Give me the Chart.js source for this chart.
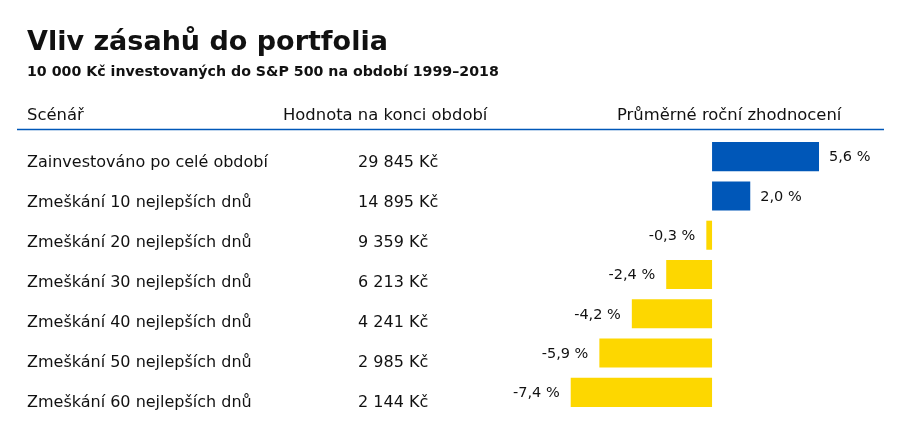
<!DOCTYPE html>
<html>
<head>
<meta charset="utf-8">
<script src="https://cdn.jsdelivr.net/npm/chart.js@4"></script>
<style>
  html, body { margin: 0; padding: 0; background: #fff; }
  canvas { display: block; }
</style>
</head>
<body>
<canvas id="chart" width="900" height="428"></canvas>
<script>
const title = "Vliv zásahů do portfolia";
const subtitle = "10 000 Kč investovaných do S&P 500 na období 1999–2018";
const headers = ["Scénář", "Hodnota na konci období", "Průměrné roční zhodnocení"];

const scenarios = [
  "Zainvestováno po celé období",
  "Zmeškání 10 nejlepších dnů",
  "Zmeškání 20 nejlepších dnů",
  "Zmeškání 30 nejlepších dnů",
  "Zmeškání 40 nejlepších dnů",
  "Zmeškání 50 nejlepších dnů",
  "Zmeškání 60 nejlepších dnů"
];
const endValues = ["29 845 Kč", "14 895 Kč", "9 359 Kč", "6 213 Kč", "4 241 Kč", "2 985 Kč", "2 144 Kč"];
const returns = [5.6, 2.0, -0.3, -2.4, -4.2, -5.9, -7.4];

const BLUE = "#0057b8";
const YELLOW = "#fdd700";
const INK = "#111";
const FONT = "'DejaVu Sans', sans-serif";

function fmtPct(v){
  return v.toFixed(1).replace(".", ",") + " %";
}

const textPlugin = {
  id: "tableText",
  afterDraw(chart){
    const ctx = chart.ctx;
    const y = chart.scales.y;
    ctx.save();
    ctx.fillStyle = INK;
    ctx.textBaseline = "alphabetic";
    ctx.textAlign = "left";

    ctx.font = "bold 27px " + FONT;
    ctx.fillText(title, 27, 50);
    ctx.font = "bold 14.2px " + FONT;
    ctx.fillText(subtitle, 27, 76);

    ctx.font = "16.4px " + FONT;
    ctx.textBaseline = "middle";
    ctx.fillText(headers[0], 27, 116);
    ctx.fillText(headers[1], 283, 116);
    ctx.fillText(headers[2], 617, 116);

    ctx.strokeStyle = BLUE;
    ctx.lineWidth = 1.5;
    ctx.beginPath();
    ctx.moveTo(17, 129.5);
    ctx.lineTo(884, 129.5);
    ctx.stroke();

    ctx.font = "16px " + FONT;
    scenarios.forEach((s, i) => {
      const py = y.getPixelForValue(i) + 6.5 + i * 0.7;
      ctx.fillText(s, 27, py);
      ctx.fillText(endValues[i], 358, py);
    });

    ctx.font = "14.5px " + FONT;
    const meta = chart.getDatasetMeta(0);
    meta.data.forEach((bar, i) => {
      const v = returns[i];
      if (v >= 0) {
        ctx.textAlign = "left";
        ctx.fillText(fmtPct(v), bar.x + 10, bar.y + 1);
      } else {
        ctx.textAlign = "right";
        ctx.fillText(fmtPct(v), bar.x - 11, bar.y + 1);
      }
    });
    ctx.restore();
  }
};

new Chart(document.getElementById("chart"), {
  type: "bar",
  data: {
    labels: scenarios,
    datasets: [{
      data: returns,
      backgroundColor: returns.map(v => v >= 0 ? BLUE : YELLOW),
      borderWidth: 0,
      categoryPercentage: 1,
      barPercentage: 0.74
    }]
  },
  options: {
    indexAxis: "y",
    responsive: false,
    animation: false,
    devicePixelRatio: 1,
    layout: { padding: { top: 137, bottom: 16, left: 0, right: 0 } },
    plugins: { legend: { display: false }, tooltip: { enabled: false } },
    scales: {
      x: { display: false, min: -37.28, max: 9.84 },
      y: { display: false }
    }
  },
  plugins: [textPlugin]
});
</script>
</body>
</html>
